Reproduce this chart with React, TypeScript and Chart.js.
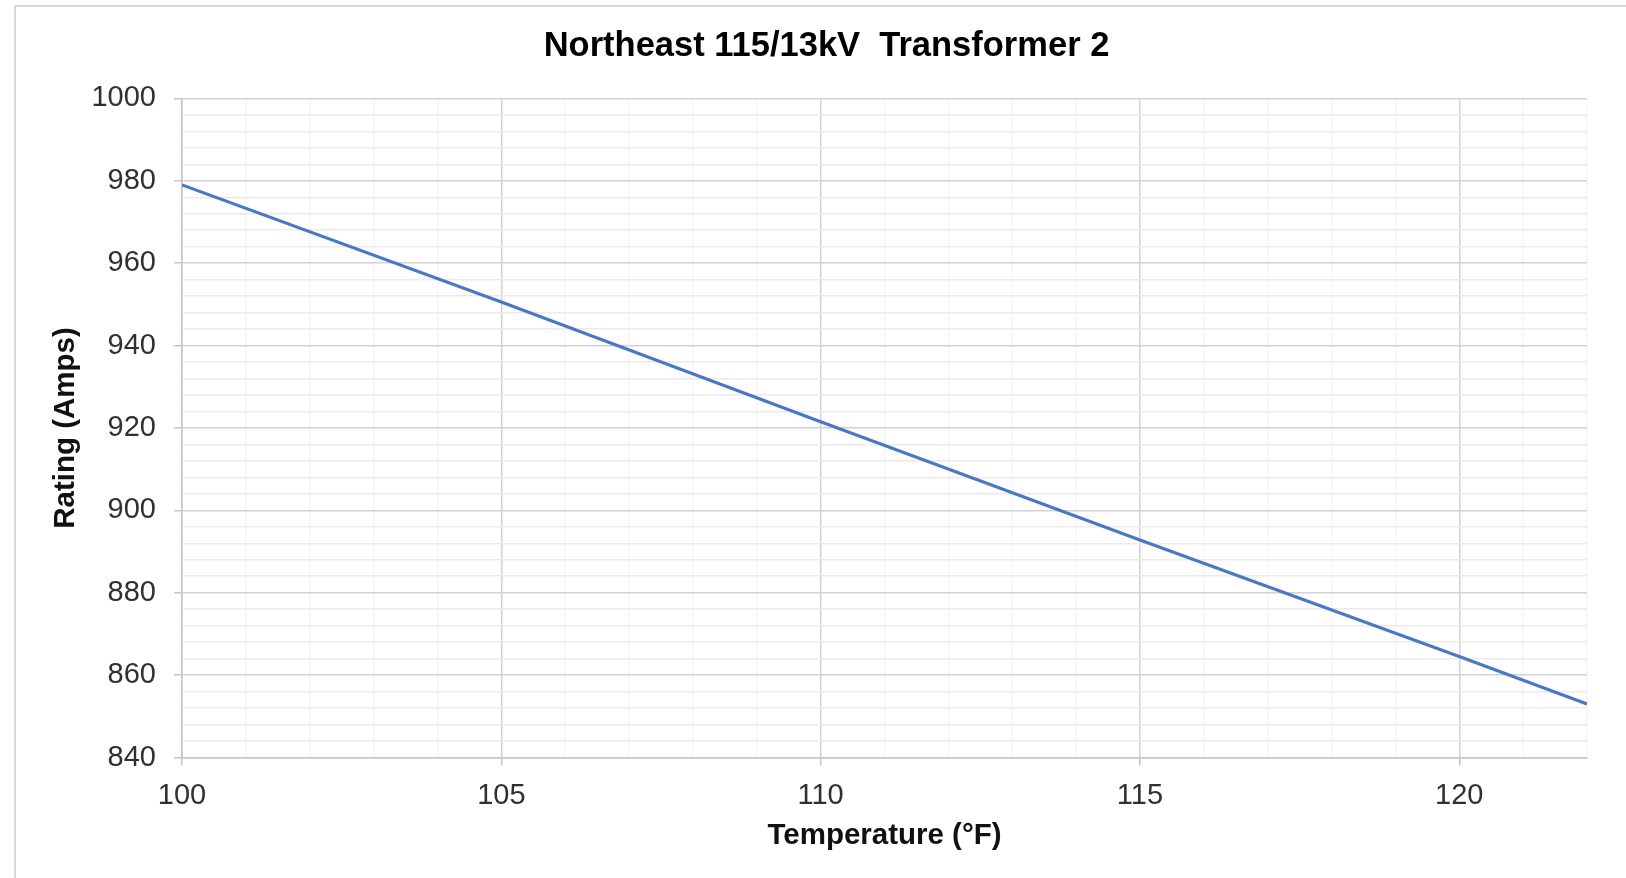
import React, { useEffect, useRef } from 'react';
import { Chart, registerables } from 'chart.js';

Chart.register(...registerables);

// ---- data ----
const temperatures = [100, 105, 110, 115, 120, 122];
const ratings = [979.0, 950.6, 921.5, 892.8, 864.5, 853.0];

const yMajorTicks = [840, 860, 880, 900, 920, 940, 960, 980, 1000];
const xMajorTicks = [100, 105, 110, 115, 120];

const chartTitle = 'Northeast 115/13kV  Transformer 2';
const xAxisTitle = 'Temperature (°F)';
const yAxisTitle = 'Rating (Amps)';

const FONT = "'Liberation Sans', Arial, Helvetica, sans-serif";
const LINE_COLOR = '#4a78c5';
const MAJOR_GRID = '#d2d2d2';
const MINOR_GRID_Y = '#ebebeb';
const MINOR_GRID_X = '#f6f6f6';
const TICK_COLOR = '#303030';

export default function App() {
  const ref = useRef<HTMLCanvasElement>(null);

  useEffect(() => {
    const canvas = ref.current;
    if (!canvas) return;
    const chart = new Chart(canvas, {
      type: 'line',
      data: {
        datasets: [
          {
            data: temperatures.map((t, i) => ({ x: t, y: ratings[i] })),
            borderColor: LINE_COLOR,
            borderWidth: 3.2,
            pointRadius: 0,
            tension: 0,
            fill: false,
          },
        ],
      },
      options: {
        responsive: false,
        animation: false,
        devicePixelRatio: 1,
        layout: { padding: { left: 66, right: 39, top: 0, bottom: 0 } },
        plugins: {
          legend: { display: false },
          tooltip: { enabled: false },
          title: {
            display: true,
            text: chartTitle,
            color: '#000',
            font: { family: FONT, size: 34.5, weight: 'bold' },
            padding: { top: 26, bottom: 31 },
          },
        },
        scales: {
          x: {
            type: 'linear',
            min: 100,
            max: 122,
            ticks: {
              stepSize: 1,
              autoSkip: false,
              maxRotation: 0,
              minRotation: 0,
              padding: 13,
              color: TICK_COLOR,
              font: { family: FONT, size: 29 },
              callback: (v: any) => (xMajorTicks.includes(Number(v)) ? String(v) : ''),
            },
            grid: {
              lineWidth: 1.5,
              tickLength: 8,
              color: (ctx: any) =>
                ctx.tick && xMajorTicks.includes(ctx.tick.value) ? MAJOR_GRID : MINOR_GRID_X,
              tickColor: (ctx: any) =>
                ctx.tick && xMajorTicks.includes(ctx.tick.value) ? '#c4c4c4' : 'rgba(0,0,0,0)',
            },
            border: { color: '#c4c4c4', width: 1.5 },
            title: {
              display: true,
              text: xAxisTitle,
              color: '#111',
              font: { family: FONT, size: 29.5, weight: 'bold' },
              padding: { top: 0, bottom: 24.5 },
            },
            afterFit: (s: any) => {
              s.height = 120.5;
            },
          },
          y: {
            type: 'linear',
            min: 840,
            max: 1000,
            ticks: {
              stepSize: 4,
              autoSkip: false,
              padding: 18,
              color: TICK_COLOR,
              font: { family: FONT, size: 29 },
              callback: (v: any) => (yMajorTicks.includes(Number(v)) ? String(v) : ''),
            },
            grid: {
              lineWidth: 1.5,
              tickLength: 8,
              color: (ctx: any) =>
                ctx.tick && yMajorTicks.includes(ctx.tick.value) ? MAJOR_GRID : MINOR_GRID_Y,
              tickColor: (ctx: any) =>
                ctx.tick && yMajorTicks.includes(ctx.tick.value) ? '#c4c4c4' : 'rgba(0,0,0,0)',
            },
            border: { color: '#c4c4c4', width: 1.5 },
            title: {
              display: true,
              text: yAxisTitle,
              color: '#111',
              font: { family: FONT, size: 29.5, weight: 'bold' },
              padding: { top: -17.5, bottom: 0 },
            },
            afterFit: (s: any) => {
              s.width = 116;
            },
          },
        },
      },
    });
    return () => chart.destroy();
  }, []);

  return (
    <div
      style={{
        position: 'fixed',
        left: 0,
        top: 0,
        width: 1626,
        height: 878,
        background: '#fff',
        overflow: 'hidden',
      }}
    >
      <canvas ref={ref} width={1626} height={878} style={{ position: 'absolute', left: 0, top: 0 }} />
      <div
        style={{
          position: 'absolute',
          left: 14,
          top: 5,
          right: 0,
          bottom: 0,
          borderTop: '2px solid #dadada',
          borderLeft: '2px solid #dadada',
          pointerEvents: 'none',
        }}
      />
    </div>
  );
}
